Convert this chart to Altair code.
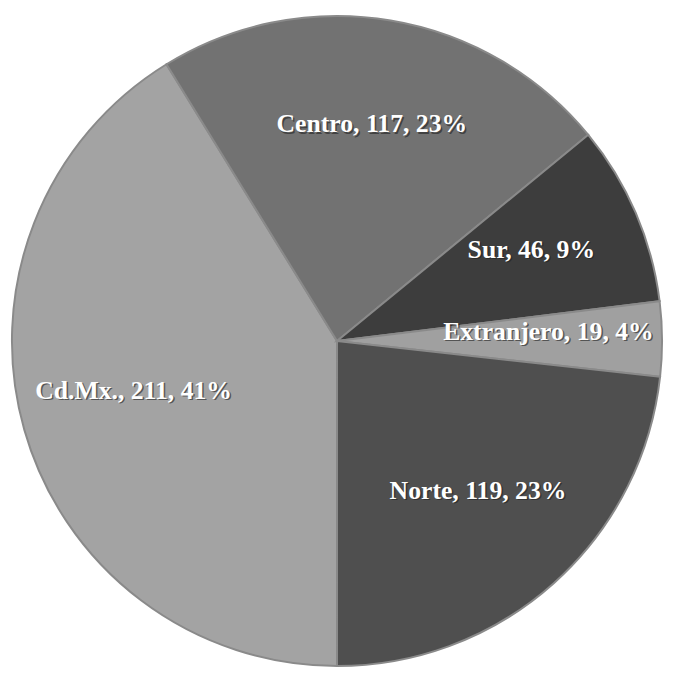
import altair as alt
import pandas as pd
import math

regions = ["Cd.Mx.", "Centro", "Sur", "Extranjero", "Norte"]
counts = [211, 117, 46, 19, 119]
percents = ["41%", "23%", "9%", "4%", "23%"]
colors = ["#a3a3a3", "#727272", "#3d3d3d", "#a0a0a0", "#4f4f4f"]

df = pd.DataFrame({
    "region": regions,
    "count": counts,
    "pct": percents,
    "idx": list(range(len(regions))),
})
df["label"] = df["region"] + ", " + df["count"].astype(str) + ", " + df["pct"]

base = alt.Chart(df).encode(
    theta=alt.Theta("count:Q", stack=True, scale=alt.Scale(range=[math.pi, 3 * math.pi])),
    order=alt.Order("idx:O"),
)

arcs = base.mark_arc(stroke="#8a8a8a", strokeWidth=2).encode(
    color=alt.Color("region:N", scale=alt.Scale(domain=regions, range=colors), legend=None)
)

shadow = base.mark_text(
    radius=214, font="Liberation Serif", fontSize=26, fontWeight="bold",
    color="#222222", dx=1.5, dy=-6.5, opacity=0.6
).encode(text="label:N")

labels = base.mark_text(
    radius=214, font="Liberation Serif", fontSize=26, fontWeight="bold",
    color="white", dy=-8
).encode(text="label:N")

chart = (arcs + shadow + labels).properties(
    width=658, height=660, padding=0
).configure_view(stroke=None).configure(background="white")

chart.save("out.html", embed_options={"renderer": "svg", "actions": False})
